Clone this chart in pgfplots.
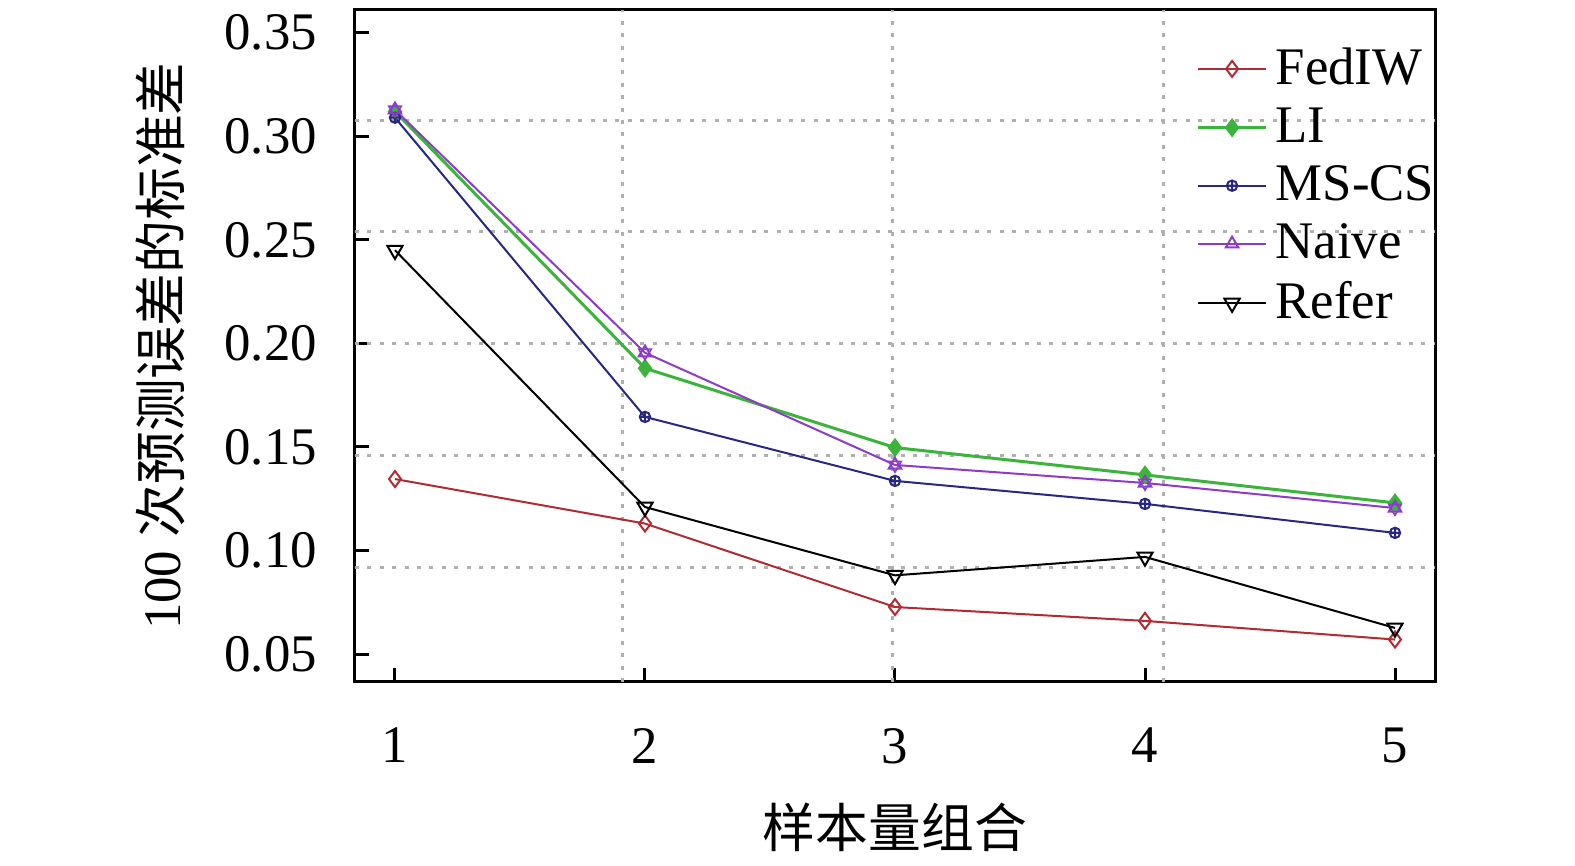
\documentclass[border=0pt]{standalone}
\usepackage{pgfplots}
\pgfplotsset{compat=1.18}
\usepackage{fontspec}
\setmainfont{Liberation Serif}
\newfontfamily\cjk{Noto Sans CJK SC}
\usetikzlibrary{plotmarks}
\definecolor{cFed}{RGB}{175,45,50}
\definecolor{cLI}{RGB}{60,180,60}
\definecolor{cMS}{RGB}{40,40,130}
\definecolor{cNa}{RGB}{140,60,200}
\definecolor{cGrid}{RGB}{175,175,175}
\begin{document}
\begin{tikzpicture}
\begin{axis}[
  at={(0,0)}, anchor=south west,
  scale only axis, width=270pt, height=168pt,
  xmin=0.84, xmax=5.16, ymin=0.0365, ymax=0.361,
  font=\fontsize{13.2}{15}\selectfont,
  /pgf/number format/assume math mode=true,
  xtick={1,2,3,4,5},
  ytick={0.05,0.10,0.15,0.20,0.25,0.30,0.35},
  yticklabel style={/pgf/number format/fixed, /pgf/number format/fixed zerofill, /pgf/number format/precision=2, xshift=-6pt},
  xticklabel style={yshift=-8pt},
  tick align=inside,
  xtick pos=bottom, ytick pos=left,
  major tick length=3.5pt,
  axis line style={line width=0.75pt},
  every tick/.style={black, line width=0.75pt},
  extra x ticks={1.912,2.992,4.072},
  extra y ticks={0.3075,0.254,0.2,0.1457,0.092},
  extra tick style={grid=major, major tick length=0pt, ticklabel style={opacity=0}},
  extra x tick labels={}, extra y tick labels={},
  major grid style={cGrid, line width=0.75pt, dash pattern=on 1pt off 2.1pt},
  xlabel={\cjk 样本量组合},
  ylabel={100 {\cjk 次预测误差的标准差}},
  xlabel style={at={(axis description cs:0.5,-0.217)}, anchor=center},
  ylabel style={at={(axis description cs:-0.1806,0.5)}, anchor=center},
  legend style={at={(axis description cs:1,1)}, anchor=north east, xshift=5pt, yshift=-5.2pt,
    draw=none, fill=none,
    font=\fontsize{13.2}{14.5}\selectfont, row sep=0.3pt},
  legend cell align=left,
]
\addplot[cFed, line width=0.5pt, mark=diamond, mark size=2pt, mark options={fill=white}]
  coordinates {(1,0.1345) (2,0.113) (3,0.0727) (4,0.066) (5,0.0570)};
\addlegendentry{FedIW}
\addplot[cLI, line width=0.75pt, mark=diamond*, mark size=1.8pt, mark options={fill=cLI}]
  coordinates {(1,0.312) (2,0.188) (3,0.1497) (4,0.1365) (5,0.123)};
\addlegendentry{LI}
\addplot[cMS, line width=0.5pt, mark=oplus, mark size=1.3pt]
  coordinates {(1,0.309) (2,0.1645) (3,0.1336) (4,0.1225) (5,0.1085)};
\addlegendentry{MS-CS}
\addplot[cNa, line width=0.5pt, mark=triangle, mark size=1.8pt]
  coordinates {(1,0.3128) (2,0.1955) (3,0.1413) (4,0.1326) (5,0.1205)};
\addlegendentry{Naive}
\addplot[black, line width=0.5pt, mark=triangle, mark size=2.2pt, mark options={rotate=180, fill=white}]
  coordinates {(1,0.245) (2,0.121) (3,0.088) (4,0.0969) (5,0.0626)};
\addlegendentry{Refer}
\addplot[cNa, only marks, mark=triangle, mark size=1.8pt, mark options={rotate=180}, forget plot]
  coordinates {(1,0.3128) (2,0.1955) (3,0.1413) (4,0.1326) (5,0.1205)};
\end{axis}
\pgfresetboundingbox
\path[use as bounding box] (-88.75pt,-46pt) rectangle (305pt,170.5pt);
\end{tikzpicture}
\end{document}
